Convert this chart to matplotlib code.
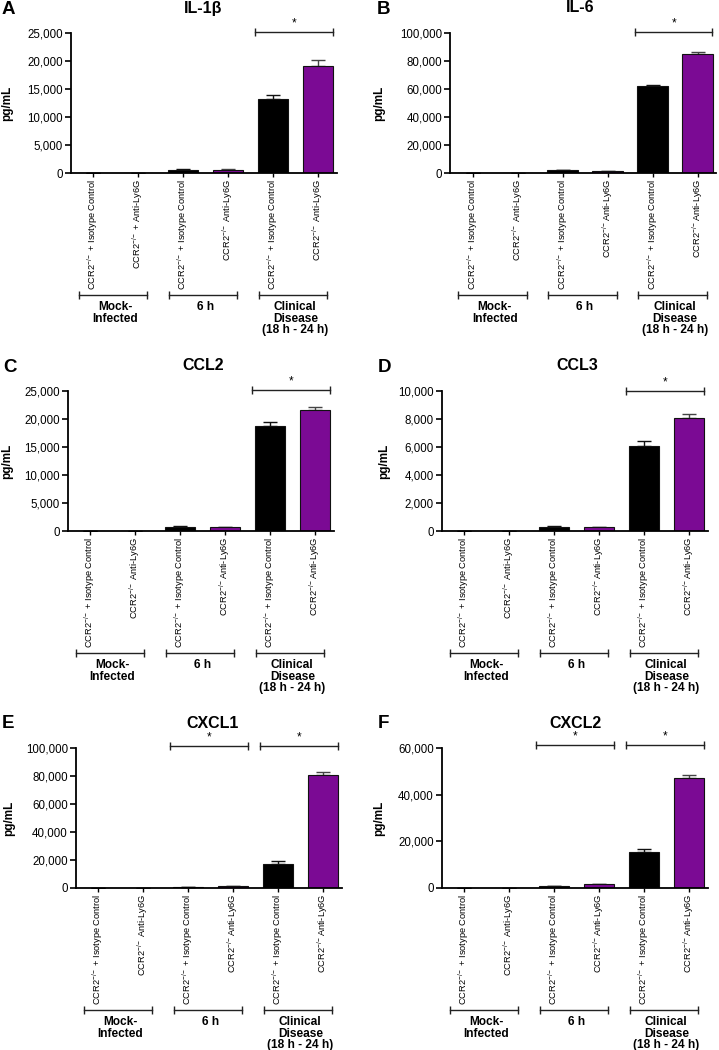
import numpy as np
import matplotlib
matplotlib.use('Agg')
import matplotlib.pyplot as plt
from matplotlib import font_manager
from matplotlib.ticker import FuncFormatter, MultipleLocator

plt.rcParams['font.family'] = ['Liberation Sans', 'DejaVu Sans']
plt.rcParams['mathtext.fontset'] = 'custom'
plt.rcParams['mathtext.rm'] = 'Liberation Sans'
plt.rcParams['mathtext.it'] = 'Liberation Sans:italic'
plt.rcParams['mathtext.bf'] = 'Liberation Sans:bold'

# narrow face for the rotated labels if there is one
HAVE_NARROW = 'Liberation Sans Narrow' in {f.name for f in font_manager.fontManager.ttflist}
TICK_FAMILY = ['Liberation Sans Narrow', 'Liberation Sans'] if HAVE_NARROW else ['Liberation Sans']
TICK_SIZE = 7.8 if HAVE_NARROW else 6.7

# ---- data ----
KO = r'CCR2$^{-/-}$'
LABELS_A = [KO + ' + Isotype Control', KO + ' + Anti-Ly6G',
            KO + ' + Isotype Control', KO + ' Anti-Ly6G',
            KO + ' + Isotype Control', KO + ' Anti-Ly6G']
LABELS = [KO + ' + Isotype Control', KO + ' Anti-Ly6G',
          KO + ' + Isotype Control', KO + 'Anti-Ly6G',
          KO + ' + Isotype Control', KO + 'Anti-Ly6G']
GROUPS = ['Mock-\nInfected', '6 h', 'Clinical\nDisease\n(18 h - 24 h)']

NAMES = ['IL-1β', 'IL-6', 'CCL2', 'CCL3', 'CXCL1', 'CXCL2']
LETTERS = ['A', 'B', 'C', 'D', 'E', 'F']

IL1B = [20, 20, 550, 600, 13250, 19100]
IL1B_ERR = [0, 0, 100, 100, 600, 1100]
IL6 = [80, 80, 1800, 1200, 62000, 85000]
IL6_ERR = [0, 0, 300, 200, 1200, 1700]
CCL2 = [80, 80, 750, 650, 18700, 21600]
CCL2_ERR = [0, 0, 100, 80, 800, 500]
CCL3 = [30, 30, 300, 260, 6100, 8050]
CCL3_ERR = [0, 0, 40, 30, 350, 300]
CXCL1 = [100, 100, 600, 1500, 17400, 80600]
CXCL1_ERR = [0, 0, 100, 200, 2100, 2500]
CXCL2 = [50, 50, 700, 1600, 15300, 47300]
CXCL2_ERR = [0, 0, 100, 200, 1400, 1100]

YMAX = [25000, 100000, 25000, 10000, 100000, 60000]
YSTEP = [5000, 20000, 5000, 2000, 20000, 20000]
# significance: (bar i, bar j, level)
SIG = [[(4, 5, 25100)], [(4, 5, 100500)], [(4, 5, 25100)], [(4, 5, 10000)],
       [(2, 3, 101200), (4, 5, 101200)], [(2, 3, 61300), (4, 5, 61300)]]

MEANS = [IL1B, IL6, CCL2, CCL3, CXCL1, CXCL2]
ERRS = [IL1B_ERR, IL6_ERR, CCL2_ERR, CCL3_ERR, CXCL1_ERR, CXCL2_ERR]

# ---- layout (pixels) ----
W, H = 719, 1050
U = 45.0                       # px per bar slot
XL, XR = -0.5, 5.42
LEFT = [70.5, 450, 67.5, 441.5, 75.5, 441.5]
TOP = [33, 33, 391, 391, 748, 748]
AX_H = 140
YLAB_X = [13, 385, 13, 390, 15, 385]
TITLE_X = [203, 580, 203, 577, 213, 575]
LETTER_X = [2, 377, 3, 378, 2, 378]
COLORS = ['#000000', '#7B0A94'] * 3

fig = plt.figure(figsize=(W / 100, H / 100), dpi=100)

for k in range(6):
    l, t = LEFT[k], TOP[k]
    w = (XR - XL) * U
    ax = fig.add_axes([l / W, 1 - (t + AX_H) / H, w / W, AX_H / H])
    x = np.arange(6)
    ax.bar(x, MEANS[k], width=0.67, color=COLORS, edgecolor='#111111', lw=0.8, zorder=2)
    for i in range(6):
        ax.errorbar(x[i], MEANS[k][i], yerr=[[0], [ERRS[k][i]]], fmt='none',
                    ecolor='#111111' if i % 2 == 0 else '#444444',
                    elinewidth=1, capsize=5, capthick=1, zorder=1)
    ax.set_xlim(XL, XR)
    ax.set_ylim(0, YMAX[k])
    ax.yaxis.set_major_locator(MultipleLocator(YSTEP[k]))
    ax.yaxis.set_major_formatter(FuncFormatter(lambda v, p: f'{int(v):,}'))
    for s in ['top', 'right']:
        ax.spines[s].set_visible(False)
    for s in ['left', 'bottom']:
        ax.spines[s].set_linewidth(1.3)
    ax.tick_params(axis='y', length=4, width=1.2, labelsize=8.3, pad=1.5)
    ax.tick_params(axis='x', length=3, width=1.0, pad=1)
    ax.set_xticks(x)
    ax.set_xticklabels(LABELS_A if k == 0 else LABELS, rotation=90,
                       fontsize=TICK_SIZE, family=TICK_FAMILY)
    ax.set_ylabel('pg/mL', fontsize=8.5, fontweight='bold')
    ax.yaxis.set_label_coords((YLAB_X[k] - l) / w, 0.5)

    # significance brackets
    for (i, j, lev) in SIG[k]:
        ax.plot([i - 0.4, j + 0.33], [lev, lev], color='#222222', lw=1,
                marker='|', ms=6, mew=1, clip_on=False)
        ax.annotate('*', ((i + j) / 2 - 0.03, lev), xytext=(0, 2),
                    textcoords='offset points', ha='center', va='bottom',
                    fontsize=8.5, annotation_clip=False)

    # group brackets under the tick labels
    tr = ax.get_xaxis_transform()
    yb = -122 / AX_H
    for g in range(3):
        a, b = 2 * g - 0.32, 2 * g + 1 + 0.21
        ax.plot([a, b], [yb, yb], color='#222222', lw=1, marker='|', ms=6, mew=1,
                transform=tr, clip_on=False)
        ax.text((a + b) / 2 + 0.05, yb - 6 / AX_H, GROUPS[g], transform=tr,
                ha='center', va='top', fontsize=8.6, fontweight='bold', linespacing=0.95)

    fig.text(TITLE_X[k] / W, 1 - (t - 25) / H, NAMES[k], ha='center', va='center',
             fontsize=11.5, fontweight='bold')
    fig.text(LETTER_X[k] / W, 1 - (t - 24) / H, LETTERS[k], ha='left', va='center',
             fontsize=13.5, fontweight='bold')

fig.savefig('out.png', dpi=100)
